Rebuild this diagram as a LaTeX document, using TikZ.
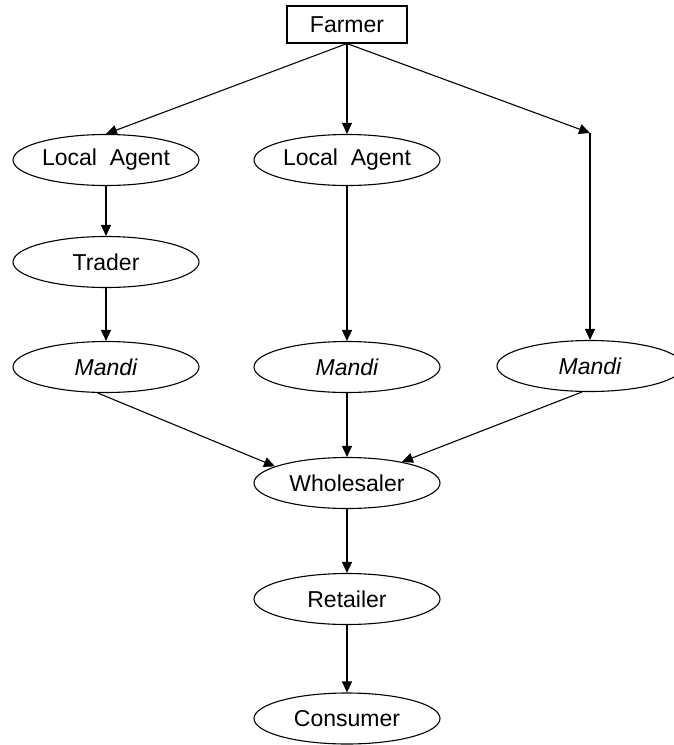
\documentclass[tikz,border=0pt]{standalone}
\usepackage{fontspec}
\setmainfont{Liberation Sans}
\usetikzlibrary{arrows.meta,shapes.geometric}

\begin{document}
\begin{tikzpicture}[x=1pt,y=-1pt,
  every node/.style={font=\fontsize{23}{26}\selectfont},
  stage/.style={draw,ellipse,line width=1.1pt,minimum width=186pt,minimum height=51pt,inner sep=0pt},
  top/.style={draw,rectangle,line width=1.1pt,minimum width=120pt,minimum height=37pt,inner sep=0pt},
  flow/.style={line width=1.1pt,-{Triangle[length=11pt,width=10pt]}}]

  % page frame
  \useasboundingbox (0,0) rectangle (674,745);
  \fill[white] (0,0) rectangle (674,745);
  \clip (0,0) rectangle (674,745);

  % stages of the chain
  \node[top]   (F)   at (347,24.5) {Farmer};
  \node[stage] (LA1) at (106,160)  {Local\ \ Agent};
  \node[stage] (LA2) at (347,160)  {Local\ \ Agent};
  \node[stage] (T)   at (106,262)  {Trader};
  \node[stage] (M1)  at (106,367)  {\itshape Mandi};
  \node[stage] (M2)  at (347,367)  {\itshape Mandi};
  \node[stage] (M3)  at (590,366)  {\itshape Mandi};
  \node[stage] (W)   at (347,483)  {Wholesaler};
  \node[stage] (R)   at (347,599)  {Retailer};
  \node[stage] (C)   at (347,718.5){Consumer};

  % direct branch turning point
  \coordinate (D) at (590,133);

  % connectors
  \draw[flow] (F.south) -- (LA1.north);
  \draw[flow] (F.south) -- (LA2.north);
  \draw[flow] (F.south) -- (D);
  \draw[flow] (D) -- (M3.north);
  \draw[flow] (LA1.south) -- (T.north);
  \draw[flow] (T.south) -- (M1.north);
  \draw[flow] (LA2.south) -- (M2.north);
  \draw[flow] (M1.252) -- (W.167);
  \draw[flow] (M2.south) -- (W.north);
  \draw[flow] (M3.253) -- (W.21);
  \draw[flow] (W.south) -- (R.north);
  \draw[flow] (R.south) -- (C.north);
\end{tikzpicture}
\end{document}
